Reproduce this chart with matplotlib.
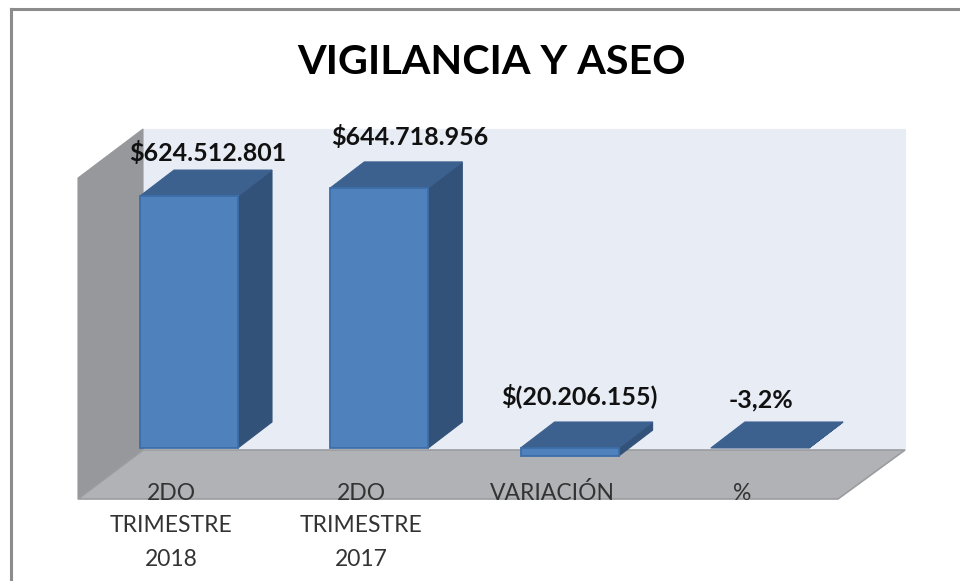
import matplotlib
matplotlib.use("Agg")
import matplotlib.pyplot as plt
from matplotlib.patches import Polygon

plt.rcParams['font.family'] = ['Lato', 'DejaVu Sans']

categorias = ["2DO\nTRIMESTRE\n2018", "2DO\nTRIMESTRE\n2017", "VARIACIÓN", "%"]
valores = [624512801, 644718956, -20206155, -3.2]
etiquetas = ["$624.512.801", "$644.718.956", "$(20.206.155)", "-3,2%"]
titulo = "VIGILANCIA Y ASEO"

# la escala: 1 px = 1/0.4034 millones de pesos
PX_POR_PESO = 0.4034e-6
BASE_Y = 448
ANCHO = 98
PASO = 190.3
X0 = 140
DX, DY = 34, 26  # profundidad de las barras en px

AZUL = "#4f81bd"
AZUL_BORDE = "#3d6ea8"
AZUL_TAPA = "#3c618f"
AZUL_LADO = "#33527a"


def val(py):
    # pasa una altura en px a pesos
    return (BASE_Y - py) / PX_POR_PESO


def px(v):
    return BASE_Y - v * PX_POR_PESO


fig = plt.figure(figsize=(9.6, 5.81), dpi=100)
ax = fig.add_axes([0, 0, 1, 1])
ax.set_xlim(0, 960)
ax.set_ylim(val(581), val(0))
ax.axis("off")


def poli(puntos, color, borde=None, lw=0.8, z=1):
    pts = [(x, val(y)) for x, y in puntos]
    ax.add_patch(Polygon(pts, closed=True, facecolor=color, edgecolor=borde or color, lw=lw, zorder=z))


# marco
ax.plot([11, 11], [val(581), val(9)], color="#8c8c8c", lw=2.2, zorder=1)
ax.plot([11, 960], [val(9), val(9)], color="#8c8c8c", lw=2.2, zorder=1)

# paredes y piso
poli([(143, 129), (905, 129), (905, 450), (143, 450)], "#e8ecf5", z=1)
poli([(78, 178), (143, 129), (143, 450), (78, 499)], "#97989b", z=2)
poli([(78, 499), (143, 450), (905, 450), (838, 499)], "#b0b2b6", borde="#9a9c9f", lw=1.2, z=2)

# barras
for i, v in enumerate(valores):
    x = X0 + i * PASO
    der = x + ANCHO
    arriba = px(max(v, 0))
    abajo = px(min(v, 0))
    poli([(der, arriba), (der + DX, arriba - DY), (der + DX, abajo - DY), (der, abajo)], AZUL_LADO, z=3)
    poli([(x, arriba), (x + DX, arriba - DY), (der + DX, arriba - DY), (der, arriba)], AZUL_TAPA, z=3)
    if abajo - arriba > 1:
        ax.bar(x + ANCHO / 2, abs(v), bottom=min(v, 0), width=ANCHO,
               facecolor=AZUL, edgecolor=AZUL_BORDE, lw=1.3, zorder=4)

# textos
pos_etq = [(208, 153), (410, 137), (579, 396), (761, 400)]
for (x, y), t in zip(pos_etq, etiquetas):
    ax.text(x, val(y), t, ha="center", va="center", fontsize=18, fontweight="bold", color="#111111", zorder=6)

pos_cat = [171, 361, 552, 742]
for x, c in zip(pos_cat, categorias):
    for k, linea in enumerate(c.split("\n")):
        ax.text(x, val(493 + k * 33), linea, ha="center", va="center", fontsize=16.5, color="#333333", zorder=6)

ax.text(491.5, val(62), titulo, ha="center", va="center", fontsize=29.7, fontweight="bold", color="black", zorder=6)

fig.savefig("out.png", dpi=100)
